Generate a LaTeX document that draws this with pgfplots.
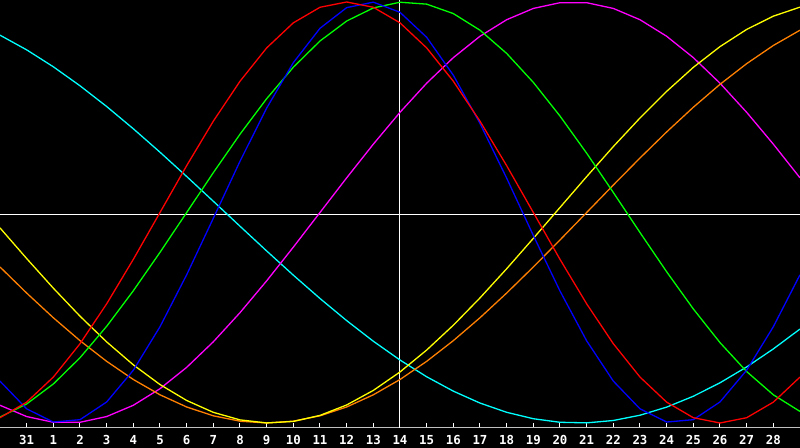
\documentclass[border=0pt]{standalone}
\usepackage{fontspec}
\usepackage{pgfplots}
\usepackage{pgfplotstable}
\pgfplotsset{compat=1.18}
\newfontfamily\tickfont{DejaVu Sans Mono}

\definecolor{axgray}{RGB}{192,192,192}
\definecolor{cRed}{RGB}{255,0,0}
\definecolor{cGreen}{RGB}{0,255,0}
\definecolor{cBlue}{RGB}{0,0,255}
\definecolor{cMagenta}{RGB}{255,0,255}
\definecolor{cCyan}{RGB}{0,255,255}
\definecolor{cYellow}{RGB}{255,255,0}
\definecolor{cOrange}{RGB}{255,128,0}

% day index: -1 = left edge, 0 = "31", 1..28 = days of month
\pgfplotstableread{
t   red     green   blue    magenta cyan    yellow  orange
-1  -0.9749 -0.9718 -0.8011 -0.9158  0.8424 -0.0732 -0.2588
0   -0.9010 -0.9096 -0.9328 -0.9694  0.7727 -0.2187 -0.3827
1   -0.7818 -0.8147 -0.9954 -0.9966  0.6922 -0.3595 -0.5000
2   -0.6235 -0.6901 -0.9843 -0.9966  0.6020 -0.4925 -0.6088
3   -0.4339 -0.5406 -0.9001 -0.9694  0.5035 -0.6148 -0.7071
4   -0.2225 -0.3717 -0.7492 -0.9158  0.3977 -0.7238 -0.7934
5    0.0000 -0.1893 -0.5427 -0.8372  0.2864 -0.8173 -0.8660
6    0.2225  0.0000 -0.2960 -0.7357  0.1711 -0.8930 -0.9239
7    0.4339  0.1893 -0.0274 -0.6142  0.0534 -0.9494 -0.9659
8    0.6235  0.3717  0.2434 -0.4759 -0.0652 -0.9852 -0.9914
9    0.7818  0.5406  0.4961 -0.3247 -0.1827 -0.9997 -1.0000
10   0.9010  0.6901  0.7118 -0.1646 -0.2977 -0.9925 -0.9914
11   0.9749  0.8147  0.8750  0.0000 -0.4085 -0.9639 -0.9659
12   1.0000  0.9096  0.9732  0.1646 -0.5136 -0.9144 -0.9239
13   0.9749  0.9718  0.9992  0.3247 -0.6116 -0.8452 -0.8660
14   0.9010  0.9989  0.9511  0.4759 -0.7008 -0.7576 -0.7934
15   0.7818  0.9898  0.8324  0.6142 -0.7803 -0.6535 -0.7071
16   0.6235  0.9450  0.6521  0.7357 -0.8487 -0.5355 -0.6088
17   0.4339  0.8660  0.4233  0.8372 -0.9053 -0.4058 -0.5000
18   0.2225  0.7557  0.1632  0.9158 -0.9492 -0.2672 -0.3827
19   0.0000  0.6181 -0.1091  0.9694 -0.9797 -0.1229 -0.2588
20  -0.2225  0.4582 -0.3731  0.9966 -0.9966  0.0239 -0.1305
21  -0.4339  0.2817 -0.6097  0.9966 -0.9994  0.1704  0.0000
22  -0.6235  0.0951 -0.8010  0.9694 -0.9881  0.3132  0.1305
23  -0.7818 -0.0951 -0.9327  0.9158 -0.9631  0.4490  0.2588
24  -0.9010 -0.2817 -0.9954  0.8372 -0.9245  0.5754  0.3827
25  -0.9749 -0.4582 -0.9843  0.7357 -0.8729  0.6895  0.5000
26  -1.0000 -0.6181 -0.9001  0.6142 -0.8090  0.7880  0.6088
27  -0.9749 -0.7557 -0.7492  0.4759 -0.7337  0.8697  0.7071
28  -0.9010 -0.8660 -0.5427  0.3247 -0.6481  0.9327  0.7934
29  -0.7818 -0.9450 -0.2960  0.1646 -0.5536  0.9756  0.8660
}\curves

\begin{document}
\begin{tikzpicture}
\fill[black] (0,0) rectangle (400pt,224pt);
\begin{axis}[
    at={(0pt,10.15pt)}, anchor=south west,
    width=400pt, height=213.85pt, scale only axis,
    xmin=-1, xmax=29,
    ymin=-1.0223, ymax=1.0095,
    axis line style={draw=none},
    xtick={0,...,28},
    xticklabels={31,1,2,3,4,5,6,7,8,9,10,11,12,13,14,15,16,17,18,19,20,21,22,23,24,25,26,27,28},
    ytick=\empty,
    xtick pos=bottom,
    tick align=inside,
    major tick length=2.5pt,
    xtick style={white, line width=0.5pt},
    xticklabel style={font=\tickfont\bfseries\fontsize{6.2}{6.2}\selectfont,
        text=white, inner sep=0pt, yshift=-3.6pt},
    clip=false,
    every axis plot/.append style={line width=0.65pt, mark=none},
    ]
    % frame and crosshair
    \draw[axgray, line width=0.8pt] (rel axis cs:0,0) -- (rel axis cs:1,0);
    \draw[axgray, line width=0.5pt] (rel axis cs:0,0) -- (rel axis cs:0,1) -- (rel axis cs:1,1);
    \draw[white, line width=0.5pt] (axis cs:-1,-0.009) -- (axis cs:29,-0.009);
    \draw[white, line width=0.5pt] (axis cs:14,-1.0223) -- (axis cs:14,1.0095);

    \addplot[color=cCyan] table[x=t, y=cyan] {\curves};
    \addplot[color=cMagenta] table[x=t, y=magenta] {\curves};
    \addplot[color=cOrange] table[x=t, y=orange] {\curves};
    \addplot[color=cYellow] table[x=t, y=yellow] {\curves};
    \addplot[color=cGreen] table[x=t, y=green] {\curves};
    \addplot[color=cBlue] table[x=t, y=blue] {\curves};
    \addplot[color=cRed] table[x=t, y=red] {\curves};
\end{axis}
\pgfresetboundingbox
\useasboundingbox (0,0) rectangle (400pt,224pt);
\end{tikzpicture}
\end{document}
